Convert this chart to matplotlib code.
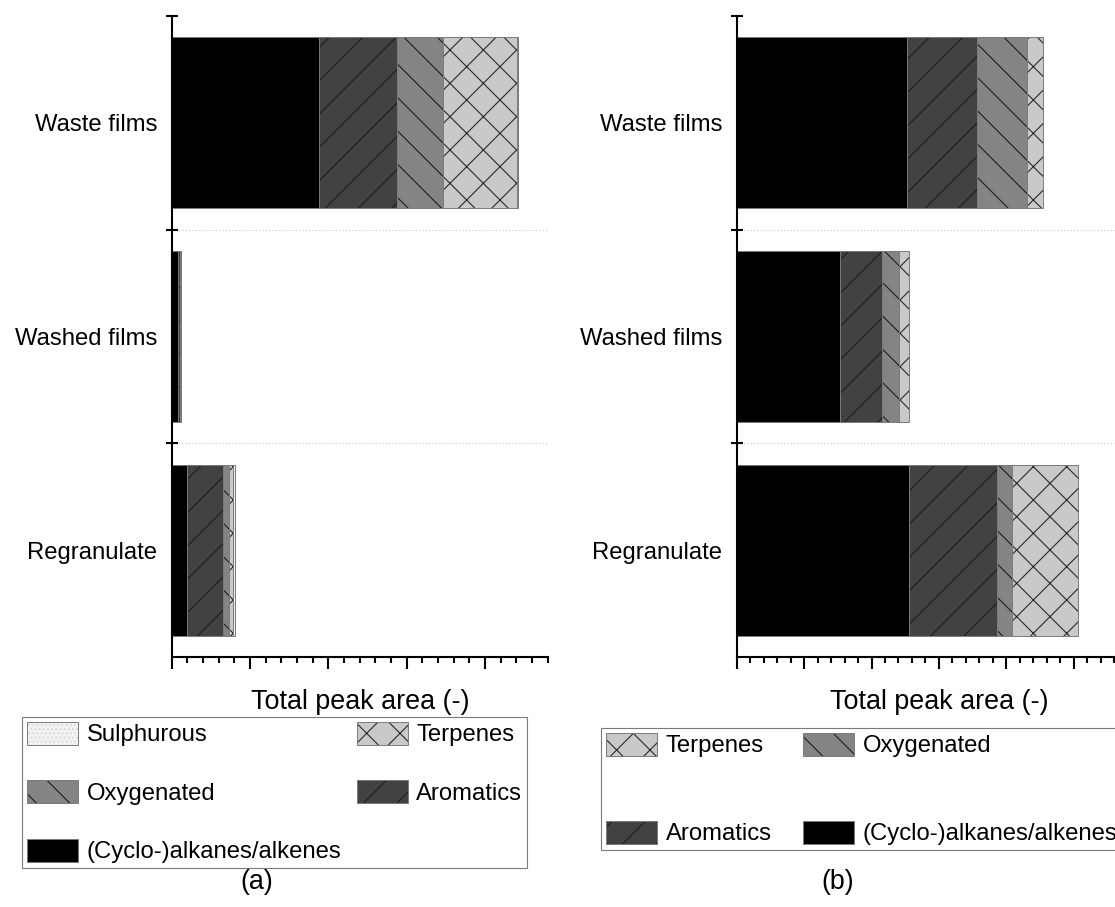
import matplotlib as mpl
import matplotlib.pyplot as plt
import numpy as np

plt.rcParams['font.family'] = ['Liberation Sans', 'DejaVu Sans']
plt.rcParams['hatch.linewidth'] = 0.4

categories = ['Regranulate', 'Washed films', 'Waste films']

# (a) total peak areas per compound group
a_alkanes = [0.19, 0.08, 1.88]
a_aromatics = [0.46, 0.02, 1.00]
a_oxygenated = [0.08, 0.01, 0.58]
a_terpenes = [0.05, 0.01, 0.95]
a_sulphurous = [0.03, 0.005, 0.01]

# (b) total peak areas per compound group
b_alkanes = [2.56, 1.54, 2.53]
b_aromatics = [1.30, 0.62, 1.04]
b_oxygenated = [0.23, 0.25, 0.74]
b_terpenes = [0.98, 0.15, 0.23]

styles = {
    '(Cyclo-)alkanes/alkenes': dict(color='#000000', hatch=None, hatchcolor='#000000'),
    'Aromatics': dict(color='#424242', hatch='//', hatchcolor='#1e1e1e'),
    'Oxygenated': dict(color='#848484', hatch='\\\\', hatchcolor='#1e1e1e'),
    'Terpenes': dict(color='#c9c9c9', hatch='xx', hatchcolor='#2a2a2a'),
    'Sulphurous': dict(color='#f2f2f2', hatch='........', hatchcolor='#d6d6d6'),
}
EDGE = '#7a7a7a'
FS = 8.6


def draw(ax, series, xmax):
    y = np.arange(len(categories))
    left = np.zeros(len(categories))
    bars = {}
    for name, vals in series:
        st = styles[name]
        # hatch colour is taken from rcParams when no edgecolor is given
        with mpl.rc_context({'hatch.color': st['hatchcolor']}):
            bars[name] = ax.barh(y, vals, 0.8, left=left, color=st['color'],
                                 linewidth=0, hatch=st['hatch'], label=name)
        ax.barh(y, vals, 0.8, left=left, fill=False, edgecolor=EDGE, linewidth=0.35)
        left += np.array(vals)

    ax.set_xlim(0, xmax)
    ax.set_ylim(-0.5, 2.5)
    for yb in [0.5, 1.5]:
        ax.axhline(yb, color='#c8c8c8', lw=0.4, ls=(0, (1, 2)), zorder=0)

    ax.spines['top'].set_visible(False)
    ax.spines['right'].set_visible(False)
    ax.spines['left'].set_linewidth(0.75)
    ax.spines['bottom'].set_linewidth(0.75)

    ax.set_yticks(y, categories, fontsize=FS)
    ax.set_yticks([0.5, 1.5, 2.5], minor=True)
    ax.tick_params(axis='y', which='major', length=0, pad=5.2)
    ax.tick_params(axis='y', which='minor', direction='inout', length=4.3, width=0.75)

    ax.set_xticks(np.arange(0, xmax + 0.01, 1))
    ax.set_xticks(np.arange(0, xmax + 0.01, 0.2), minor=True)
    ax.tick_params(axis='x', which='major', direction='out', length=4.2, width=0.75,
                   labelbottom=False)
    ax.tick_params(axis='x', which='minor', direction='out', length=2.2, width=0.75)
    ax.set_xlabel('Total peak area (-)', fontsize=9.7, labelpad=6)
    for sp in ax.spines.values():
        sp.set_zorder(5)
    return bars


fig = plt.figure(figsize=(11.15 / 2, 9.07 / 2), dpi=200)
W, H = 1115, 907

ax_a = fig.add_axes([171.7 / W, 1 - 657 / H, (548 - 171.7) / W, (657 - 16) / H])
ax_b = fig.add_axes([736.7 / W, 1 - 657 / H, 6 * 67.4 / W, (657 - 16) / H])

bars_a = draw(ax_a, [('(Cyclo-)alkanes/alkenes', a_alkanes),
                     ('Aromatics', a_aromatics),
                     ('Oxygenated', a_oxygenated),
                     ('Terpenes', a_terpenes),
                     ('Sulphurous', a_sulphurous)], 4.806)
bars_b = draw(ax_b, [('(Cyclo-)alkanes/alkenes', b_alkanes),
                     ('Aromatics', b_aromatics),
                     ('Oxygenated', b_oxygenated),
                     ('Terpenes', b_terpenes)], 6.0)

leg_kw = dict(loc='upper left', mode='expand', ncol=2, fontsize=FS,
              handlelength=2.15, handleheight=1.1, handletextpad=0.35,
              borderpad=0.2, borderaxespad=0, fancybox=False, framealpha=1)

order_a = ['Sulphurous', 'Oxygenated', '(Cyclo-)alkanes/alkenes', 'Terpenes', 'Aromatics']
leg_a = fig.legend([bars_a[k] for k in order_a], order_a,
                   bbox_to_anchor=(22 / W, 1 - 717 / H, (527 - 22) / W, 0),
                   labelspacing=1.42, **leg_kw)
order_b = ['Terpenes', 'Aromatics', 'Oxygenated', '(Cyclo-)alkanes/alkenes']
leg_b = fig.legend([bars_b[k] for k in order_b], order_b,
                   bbox_to_anchor=(601 / W, 1 - 728 / H, (1122 - 601) / W, 0),
                   labelspacing=2.65, **leg_kw)
for leg in (leg_a, leg_b):
    leg.get_frame().set_edgecolor(EDGE)
    leg.get_frame().set_linewidth(0.4)
    for h in leg.legend_handles:
        hc = h._hatch_color
        h.set_edgecolor(EDGE)
        h.set_linewidth(0.35)
        h._hatch_color = hc

fig.text(257 / W, 1 - 882 / H, '(a)', ha='center', va='center', fontsize=9.7)
fig.text(838 / W, 1 - 882 / H, '(b)', ha='center', va='center', fontsize=9.7)

fig.savefig('out.png', dpi=200)
